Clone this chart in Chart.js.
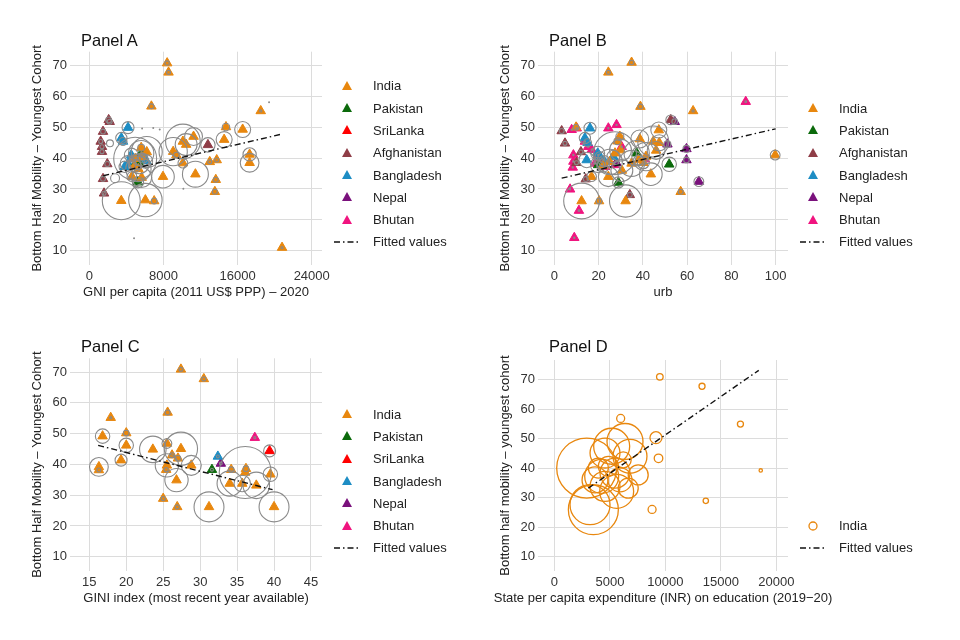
<!DOCTYPE html>
<html lang="en">
<head>
  <meta charset="UTF-8">
  <title>Bottom Half Mobility – South Asia</title>
  <script src="https://cdn.jsdelivr.net/npm/chart.js"></script>
  <style>
    body {
      margin: 0;
      background: #fff;
      font-family: 'Liberation Sans', Arial, Helvetica, sans-serif;
      color: #222;
    }
    #page { position: relative; width: 960px; height: 640px; }
    .panel { position: absolute; width: 480px; height: 320px; }
    .panel canvas { position: absolute; left: 0; top: 0; }
    .ptitle { position: absolute; font-size: 16.5px; line-height: 20px; color: #111; }
    .xtitle { position: absolute; font-size: 13px; line-height: 16px; color: #222; white-space: nowrap; transform: translateX(-50%); }
    .legend { position: absolute; font-size: 13px; color: #222; }
    .legend div { height: 22.3px; display: flex; align-items: center; white-space: nowrap; }
    .legend svg { width: 26px; height: 12px; margin-right: 13px; flex: none; }
  </style>
</head>
<body>
<div id="page"></div>

<script>
  // Tick values
  const yTicks = [10, 20, 30, 40, 50, 60, 70];
  const gniTicks = [0, 8000, 16000, 24000];
  const urbTicks = [0, 20, 40, 60, 80, 100];
  const giniTicks = [15, 20, 25, 30, 35, 40, 45];
  const eduTicks = [0, 5000, 10000, 15000, 20000];

  const countries = ['India', 'Pakistan', 'SriLanka', 'Afghanistan', 'Bangladesh', 'Nepal', 'Bhutan'];

  // Panel A: [GNI per capita, mobility, population weight]
  const gniIndia = [
    [8400, 70.8, 1.2], [8550, 67.8, 1], [6700, 56.8, 1.5], [18500, 55.3, 0.3],
    [14750, 50.1, 3.5], [16550, 49.3, 16], [14550, 46.0, 16], [11250, 47.0, 20],
    [10100, 45.4, 75], [10450, 44.4, 30], [9050, 42.1, 50], [9400, 41.0, 2],
    [10100, 38.4, 6], [17300, 41.2, 11], [17300, 38.5, 22], [13000, 38.8, 1],
    [13750, 39.4, 1], [13650, 33.0, 1.5], [13550, 29.1, 1.5], [11450, 34.8, 42],
    [7950, 34.0, 32], [3450, 26.2, 90], [6050, 26.4, 70], [7000, 26.1, 2],
    [5600, 43.4, 3], [4600, 34.0, 6], [5650, 33.7, 25], [20800, 11.0, 0.3],
    [4950, 39.8, 115], [6200, 42.0, 60], [5300, 36.5, 40], [5650, 40.4, 4], [4900, 37.5, 10]
  ];
  const gniPakistan = [[5600, 41.6, 40], [5400, 38.2, 25], [5250, 32.2, 8], [5100, 38.8, 15]];
  const gniSriLanka = [];
  const gniAfghanistan = [
    [2090, 52.4, 2], [2200, 51.8, 1.5], [1480, 48.6, 1.5], [1230, 45.4, 1], [1370, 43.7, 1],
    [1370, 42.1, 1], [1940, 38.1, 1.5], [1480, 33.3, 1.5], [1590, 28.6, 1], [12800, 44.3, 13]
  ];
  const gniBangladesh = [
    [4180, 49.9, 9], [3460, 46.5, 8], [3640, 45.4, 4], [4530, 41.0, 12],
    [4180, 38.3, 15], [3820, 37.2, 8], [6150, 39.1, 10], [5800, 40.0, 6]
  ];
  const gniNepal = [];
  const gniBhutan = [];
  const gniOther = [
    [19400, 58.1, 0.05], [4830, 14.0, 0.05], [5700, 49.6, 0.05], [6900, 49.8, 0.05],
    [7600, 49.3, 0.05], [10150, 30.1, 0.05], [2230, 44.8, 3], [2780, 33.5, 5]
  ];
  const gniFit = [[1500, 34.3], [20800, 47.8]];

  // Panel B: [urbanisation %, mobility, weight]
  const urbIndia = [
    [34.9, 71.0, 1.2], [24.4, 67.8, 1], [38.9, 56.7, 1.5], [62.7, 55.3, 0.3],
    [99.8, 41.0, 6], [47.2, 49.1, 16], [47.4, 45.0, 16], [38.6, 46.2, 20],
    [29.6, 47.0, 4], [29.9, 42.6, 30], [27.4, 41.6, 115], [41.4, 40.5, 50],
    [34.9, 38.3, 42], [40.2, 38.5, 9], [43.6, 34.8, 32], [24.4, 34.0, 25],
    [16.8, 34.0, 6], [12.3, 26.1, 80], [20.2, 26.1, 2], [32.2, 26.1, 65],
    [57.1, 29.1, 1.5], [44.7, 45.4, 60], [28.5, 45.5, 3], [25.0, 38.8, 40],
    [30.5, 36.0, 30], [22.0, 37.5, 10], [46.0, 42.5, 20], [9.8, 50.0, 2], [38.0, 39.4, 6]
  ];
  const urbPakistan = [[37.2, 41.6, 40], [51.9, 38.0, 13], [28.9, 32.1, 8], [19.8, 37.8, 15]];
  const urbAfghanistan = [
    [3.3, 48.8, 1.5], [4.8, 44.8, 1], [14.2, 33.2, 1.5], [34.1, 28.1, 1.5],
    [52.6, 52.4, 6], [21.4, 38.0, 1], [12.0, 42.0, 1], [10.0, 38.5, 1]
  ];
  const urbBangladesh = [
    [16.1, 49.7, 9], [13.8, 46.5, 8], [19.6, 41.6, 12], [14.6, 39.4, 15],
    [26.6, 40.5, 10], [20.6, 40.5, 6], [15.0, 45.0, 4], [22.5, 39.0, 8]
  ];
  const urbNepal = [[51.1, 44.5, 3], [59.7, 43.0, 3], [59.7, 39.4, 2], [65.3, 32.4, 6], [54.4, 51.8, 2], [28.0, 38.5, 1]];
  const urbBhutan = [
    [86.5, 58.3, 0.2], [9.0, 14.2, 0.1], [11.1, 23.0, 0.2], [7.1, 29.9, 0.1], [7.8, 49.2, 0.1],
    [10.1, 49.7, 0.1], [24.4, 49.7, 0.1], [28.1, 50.8, 0.1], [13.8, 45.4, 0.1], [15.3, 43.7, 0.1],
    [16.9, 42.7, 0.1], [8.6, 41.0, 0.1], [8.6, 38.9, 0.1], [18.4, 38.3, 0.1], [30.4, 43.7, 0.1],
    [40.9, 39.7, 0.1], [27.4, 37.8, 0.1], [19.8, 41.0, 0.1], [22.9, 37.2, 0.1], [8.3, 37.0, 0.1]
  ];
  const urbFit = [[3.3, 33.5], [100, 49.5]];

  // Panel C: [GINI index, mobility, weight]
  const giniIndia = [
    [27.4, 70.9, 1], [30.5, 67.8, 1], [25.6, 56.9, 1.5], [17.9, 55.2, 0.3],
    [16.8, 49.2, 13], [20.0, 50.2, 2], [20.0, 46.2, 13], [19.3, 41.4, 9],
    [16.3, 39.2, 22], [16.3, 38.2, 1], [23.6, 44.9, 44], [25.5, 46.8, 6],
    [27.4, 45.1, 69], [26.2, 43.0, 1.5], [27.0, 42.0, 2], [25.5, 39.7, 34],
    [25.4, 38.3, 1], [28.8, 39.7, 25], [26.8, 34.9, 34], [25.0, 28.9, 1],
    [26.9, 26.2, 1], [31.2, 26.2, 56], [34.2, 38.3, 2], [36.2, 38.6, 2],
    [34.0, 33.8, 40], [35.7, 33.8, 17], [37.6, 33.2, 44], [39.5, 36.8, 13],
    [40.0, 26.2, 56], [36.1, 37.4, 169]
  ];
  const giniPakistan = [[31.6, 38.3, 0.5]];
  const giniSriLanka = [[39.4, 44.4, 9]];
  const giniBangladesh = [[32.4, 42.6, 0.5]];
  const giniNepal = [[32.8, 40.3, 0.5]];
  const giniBhutan = [[37.4, 48.7, 0.3]];
  const giniFit = [[16.2, 46.2], [39.8, 31.8]];

  // Panel D: [state spending per capita on education, mobility, weight]
  const eduIndia = [
    [9500, 70.9, 2.7], [13300, 67.7, 2.3], [5970, 56.8, 4], [16760, 54.9, 2.3],
    [9150, 50.3, 9], [9380, 43.3, 4.6], [18590, 39.2, 0.7], [13640, 28.9, 1.8],
    [8800, 26.0, 4], [2910, 40.0, 225], [3510, 25.9, 156], [3210, 27.6, 100],
    [5160, 47.4, 81], [6360, 49.0, 81], [4560, 45.1, 56], [6810, 44.0, 72],
    [4260, 37.2, 72], [5460, 38.3, 56], [4560, 33.8, 56], [3660, 36.0, 42],
    [5910, 36.0, 36], [4860, 40.6, 25], [7550, 37.7, 25], [6200, 42.8, 16],
    [5610, 32.1, 72], [3960, 40.0, 25], [6650, 33.2, 25]
  ];
  const eduFit = [[3060, 33.2], [18410, 73.1]];

  const colors = {
    India: '#E8870E', Pakistan: '#0B6A0B', SriLanka: '#FF0000', Afghanistan: '#8F3D47',
    Bangladesh: '#1D8DC4', Nepal: '#7A117C', Bhutan: '#F0147F'
  };

  Chart.defaults.font.family = "'Liberation Sans', Arial, Helvetica, sans-serif";
  Chart.defaults.font.size = 13;
  Chart.defaults.color = '#333';
  Chart.defaults.animation = false;

  const pts = rows => rows.map(([x, y]) => ({x, y}));
  const rings = rows => rows.map(([x, y, w]) => ({x, y, r: 2 * Math.sqrt(w)}));

  function axis(title, min, max, ticks, isX, showTitle) {
    return {
      type: 'linear', min, max,
      afterBuildTicks: s => { s.ticks = ticks.map(v => ({value: v})); },
      afterFit: s => { if (isX) s.height = 40; else s.width = 40; },
      ticks: {callback: v => String(v), padding: isX ? 4 : 3, color: '#333'},
      grid: {color: '#dcdcdc', drawTicks: false},
      border: {display: false},
      title: {display: showTitle, text: title, color: '#222', padding: isX ? {top: 0, bottom: 5} : {top: 0, bottom: 0}}
    };
  }

  function marker(kind, color) {
    if (kind === 'line') return '<svg viewBox="0 0 26 12"><line x1="0" y1="6" x2="26" y2="6" stroke="#111" stroke-width="1.4" stroke-dasharray="6 3 1.5 3"/></svg>';
    if (kind === 'ring') return '<svg viewBox="0 0 26 12"><circle cx="13" cy="6" r="4" fill="none" stroke="' + color + '" stroke-width="1.3"/></svg>';
    return '<svg viewBox="0 0 26 12"><polygon points="13,1 18,10 8,10" fill="' + color + '"/></svg>';
  }

  function panel(p) {
    const wrap = document.createElement('div');
    wrap.className = 'panel';
    wrap.style.left = p.left + 'px';
    wrap.style.top = p.top + 'px';
    const cv = document.createElement('canvas');
    cv.width = 480; cv.height = 320;
    wrap.appendChild(cv);

    const t = document.createElement('div');
    t.className = 'ptitle';
    t.textContent = p.title;
    t.style.left = (p.area.l + 11) + 'px';
    t.style.top = (p.area.t - p.titleGap - 10) + 'px';
    wrap.appendChild(t);

    // long axis titles may run wider than the plot, so they sit in the page instead of the canvas
    if (p.wideXTitle) {
      const xt = document.createElement('div');
      xt.className = 'xtitle';
      xt.textContent = p.xTitle;
      xt.style.left = ((p.area.l + p.area.r) / 2) + 'px';
      xt.style.top = (p.area.b + 27 - 8) + 'px';
      wrap.appendChild(xt);
    }

    const lg = document.createElement('div');
    lg.className = 'legend';
    lg.style.left = (p.area.r + 12) + 'px';
    lg.style.top = (p.legendLast - (p.legend.length - 0.5) * 22.3) + 'px';
    lg.innerHTML = p.legend.map(([label, kind, color]) => '<div>' + marker(kind, color) + label + '</div>').join('');
    wrap.appendChild(lg);
    document.getElementById('page').appendChild(wrap);

    const datasets = [
      {type: 'line', label: 'Fitted values', data: pts(p.fit), borderColor: '#111', borderWidth: 1.4,
       borderDash: [6, 3, 1.5, 3], pointRadius: 0, order: -1},
      {type: 'bubble', label: p.ringLabel, data: rings(p.rows), backgroundColor: 'rgba(0,0,0,0)',
       borderColor: p.ringColor, borderWidth: p.ringWidth, order: 0}
    ];
    (p.groups || []).forEach(([name, rows]) => {
      datasets.push({type: 'scatter', label: name, data: pts(rows), pointStyle: 'triangle', pointRadius: 5.5,
        backgroundColor: colors[name], borderColor: colors[name], borderWidth: 1, order: 1});
    });

    new Chart(cv, {
      type: 'scatter',
      data: {datasets},
      options: {
        responsive: false,
        events: [],
        layout: {padding: {left: p.area.l - 40, top: p.area.t, right: 480 - p.area.r, bottom: 320 - p.area.b - 40}},
        plugins: {legend: {display: false}, tooltip: {enabled: false}},
        scales: {
          x: axis(p.xTitle, p.xMin, p.xMax, p.xTicks, true, !p.wideXTitle),
          y: axis(p.yTitle, p.yMin, p.yMax, yTicks, false, true)
        }
      }
    });
  }

  const fitItem = ['Fitted values', 'line'];
  const triItem = c => [c, 'tri', colors[c]];

  panel({
    title: 'Panel A', left: 0, top: 0, area: {l: 70, t: 51.7, r: 322, b: 265}, titleGap: 12, legendLast: 242,
    xTitle: 'GNI per capita (2011 US$ PPP) – 2020', xMin: -2083, xMax: 25111, xTicks: gniTicks,
    yTitle: 'Bottom Half Mobility – Youngest Cohort', yMin: 5.36, yMax: 74.5,
    fit: gniFit, ringLabel: 'weight', ringColor: '#8a8a8a', ringWidth: 1.1,
    rows: [...gniIndia, ...gniPakistan, ...gniAfghanistan, ...gniBangladesh, ...gniOther],
    groups: [['India', gniIndia], ['Pakistan', gniPakistan], ['SriLanka', gniSriLanka], ['Afghanistan', gniAfghanistan],
             ['Bangladesh', gniBangladesh], ['Nepal', gniNepal], ['Bhutan', gniBhutan]],
    legend: [...countries.map(triItem), fitItem]
  });

  panel({
    title: 'Panel B', left: 480, top: 0, area: {l: 58, t: 51.7, r: 308, b: 265}, titleGap: 12, legendLast: 242,
    xTitle: 'urb', xMin: -7.4, xMax: 105.6, xTicks: urbTicks,
    yTitle: 'Bottom Half Mobility – Youngest Cohort', yMin: 5.36, yMax: 74.5,
    fit: urbFit, ringLabel: 'weight', ringColor: '#8a8a8a', ringWidth: 1.1,
    rows: [...urbIndia, ...urbPakistan, ...urbAfghanistan, ...urbBangladesh, ...urbNepal, ...urbBhutan],
    groups: [['India', urbIndia], ['Pakistan', urbPakistan], ['Afghanistan', urbAfghanistan],
             ['Bangladesh', urbBangladesh], ['Nepal', urbNepal], ['Bhutan', urbBhutan]],
    legend: [...countries.filter(c => c !== 'SriLanka').map(triItem), fitItem]
  });

  panel({
    title: 'Panel C', left: 0, top: 320, area: {l: 70, t: 38.3, r: 322, b: 251}, titleGap: 12, legendLast: 228,
    xTitle: 'GINI index (most recent year available)', xMin: 12.39, xMax: 46.49, xTicks: giniTicks,
    yTitle: 'Bottom Half Mobility – Youngest Cohort', yMin: 5.36, yMax: 74.5,
    fit: giniFit, ringLabel: 'weight', ringColor: '#8a8a8a', ringWidth: 1.1,
    rows: [...giniIndia, ...giniSriLanka, ...giniPakistan, ...giniBangladesh, ...giniNepal, ...giniBhutan],
    groups: [['India', giniIndia], ['Pakistan', giniPakistan], ['SriLanka', giniSriLanka],
             ['Bangladesh', giniBangladesh], ['Nepal', giniNepal], ['Bhutan', giniBhutan]],
    legend: [...countries.filter(c => c !== 'Afghanistan').map(triItem), fitItem]
  });

  panel({
    title: 'Panel D', left: 480, top: 320, area: {l: 58, t: 40, r: 308, b: 251}, titleGap: 14, legendLast: 228,
    xTitle: 'State per capita expenditure (INR) on education (2019−20)', wideXTitle: true,
    xMin: -1477, xMax: 21045, xTicks: eduTicks,
    yTitle: 'Bottom half mobility – youngest cohort', yMin: 5.15, yMax: 76.6,
    fit: eduFit, ringLabel: 'India', ringColor: colors.India, ringWidth: 1.3,
    rows: eduIndia,
    legend: [['India', 'ring', colors.India], fitItem]
  });
</script>

</body>
</html>
